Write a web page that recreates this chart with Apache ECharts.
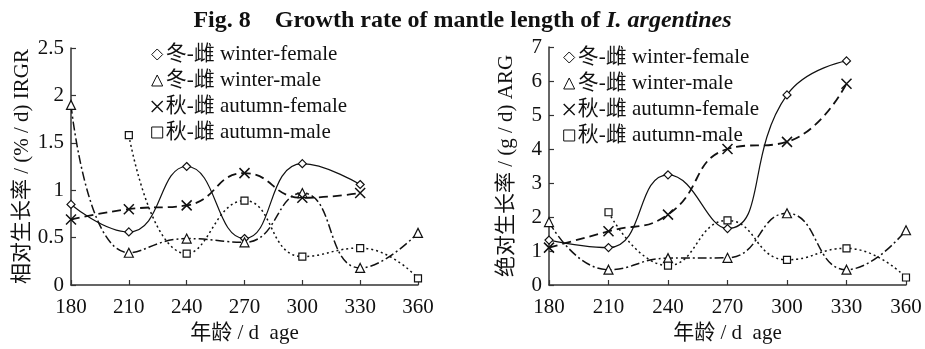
<!DOCTYPE html>
<html>
<head>
<meta charset="utf-8">
<script src="https://cdn.jsdelivr.net/npm/echarts@6/dist/echarts.min.js"></script>
<style>html,body{margin:0;padding:0;background:#fff}#c{width:925px;height:349px}</style>
</head>
<body>
<div id="c"></div>
<script>
var ages = [180, 210, 240, 270, 300, 330, 360];
var seriesNames = ['冬-雌 winter-female', '冬-雌 winter-male', '秋-雌 autumn-female', '秋-雌 autumn-male'];
// IRGR (%/d)
var irgrWinterFemale = [0.85, 0.56, 1.25, 0.49, 1.28, 1.06, null];
var irgrWinterMale   = [1.90, 0.34, 0.49, 0.45, 0.97, 0.18, 0.55];
var irgrAutumnFemale = [0.69, 0.80, 0.84, 1.18, 0.92, 0.97, null];
var irgrAutumnMale   = [null, 1.58, 0.33, 0.89, 0.30, 0.39, 0.07];
// ARG (g/d)
var argWinterFemale = [1.32, 1.10, 3.24, 1.66, 5.59, 6.59, null];
var argWinterMale   = [1.85, 0.45, 0.79, 0.80, 2.11, 0.45, 1.61];
var argAutumnFemale = [1.10, 1.58, 2.07, 4.00, 4.21, 5.92, null];
var argAutumnMale   = [null, 2.14, 0.57, 1.90, 0.74, 1.08, 0.22];

var xTicks = { min: 180, max: 360, interval: 30 };
var yLeftTicks = { min: 0, max: 2.5, interval: 0.5 };
var yRightTicks = { min: 0, max: 7, interval: 1 };

function pairs(vals) {
  var out = [];
  for (var i = 0; i < ages.length; i++) if (vals[i] !== null) out.push([ages[i], vals[i]]);
  return out;
}

var SERIF = '"Liberation Serif", "Times New Roman", "Noto Sans CJK SC", serif';
var xPath = 'path://M0,0L10,10M10,0L0,10';
var symbols = ['diamond', 'triangle', xPath, 'rect'];
var symbolSizes = [8, 9, 10, 7];
var lineTypes = ['solid', [9, 3, 2, 3], [9, 5], [2, 3]];
var lineWidths = [1.2, 1.5, 1.8, 1.5];

function makeSeries(gridIdx, arrays) {
  return arrays.map(function (vals, k) {
    return {
      name: seriesNames[k],
      type: 'line',
      xAxisIndex: gridIdx,
      yAxisIndex: gridIdx,
      data: pairs(vals),
      smooth: 0.5,
      symbol: symbols[k],
      symbolSize: symbolSizes[k],
      showSymbol: true,
      lineStyle: { color: '#111', width: lineWidths[k], type: lineTypes[k] },
      itemStyle: { color: k === 2 ? 'rgba(0,0,0,0)' : '#fff', borderColor: '#111', borderWidth: k === 2 ? 1.5 : 1.2 },
      emphasis: { disabled: true },
      z: 3
    };
  });
}

function xAxis(gridIdx) {
  return {
    type: 'value', gridIndex: gridIdx, min: xTicks.min, max: xTicks.max, interval: xTicks.interval,
    name: '年龄 / d  age', nameLocation: 'middle', nameGap: 38,
    nameTextStyle: { fontFamily: SERIF, fontSize: 21, color: '#111' },
    axisLine: { lineStyle: { color: '#333', width: 1.5 } },
    axisTick: { inside: true, length: 5, lineStyle: { color: '#333', width: 1.2 } },
    axisLabel: { fontFamily: SERIF, fontSize: 21, color: '#111', margin: 12 },
    splitLine: { show: false }
  };
}
function yAxis(gridIdx, ticks, name, gap) {
  return {
    type: 'value', gridIndex: gridIdx, min: ticks.min, max: ticks.max, interval: ticks.interval,
    name: name, nameLocation: 'middle', nameGap: gap, nameRotate: 90,
    nameTextStyle: { fontFamily: SERIF, fontSize: 21, color: '#111' },
    axisLine: { show: true, lineStyle: { color: '#333', width: 1.5 } },
    axisTick: { show: true, inside: true, length: 5, lineStyle: { color: '#333', width: 1.2 } },
    axisLabel: { fontFamily: SERIF, fontSize: 21, color: '#111', margin: 7 },
    splitLine: { show: false }
  };
}
function legend(left, top) {
  return {
    left: left, top: top, orient: 'vertical', itemGap: 5, itemWidth: 11, itemHeight: 11,
    selectedMode: false,
    itemStyle: { color: '#fff', borderColor: '#111', borderWidth: 1 },
    textStyle: { fontFamily: SERIF, fontSize: 21, color: '#111', lineHeight: 20, padding: [0, 0, 0, -2] },
    data: seriesNames.map(function (n, k) {
      return { name: n, icon: symbols[k], itemStyle: { color: k === 2 ? 'rgba(0,0,0,0)' : '#fff', borderColor: '#111', borderWidth: k === 2 ? 1.4 : 1 } };
    })
  };
}

var chart = echarts.init(document.getElementById('c'), null, { renderer: 'canvas' });
chart.setOption({
  animation: false,
  backgroundColor: '#fff',
  title: {
    text: '{b|Fig. 8    Growth rate of mantle length of }{i|I. argentines}',
    left: 'center', top: 4,
    textStyle: { rich: {
      b: { fontFamily: SERIF, fontSize: 24, fontWeight: 'bold', color: '#111' },
      i: { fontFamily: SERIF, fontSize: 24, fontWeight: 'bold', fontStyle: 'italic', color: '#111' }
    } }
  },
  legend: [legend(146, 39), legend(558, 42)],
  grid: [
    { left: 71, top: 48, width: 347, height: 240 },
    { left: 549, top: 47, width: 357, height: 242 }
  ],
  xAxis: [xAxis(0), xAxis(1)],
  yAxis: [
    yAxis(0, yLeftTicks, '相对生长率 / (% / d) IRGR', 38),
    yAxis(1, yRightTicks, '绝对生长率 / (g / d) ARG', 32)
  ],
  series: makeSeries(0, [irgrWinterFemale, irgrWinterMale, irgrAutumnFemale, irgrAutumnMale])
    .concat(makeSeries(1, [argWinterFemale, argWinterMale, argAutumnFemale, argAutumnMale]))
});
</script>
</body>
</html>
